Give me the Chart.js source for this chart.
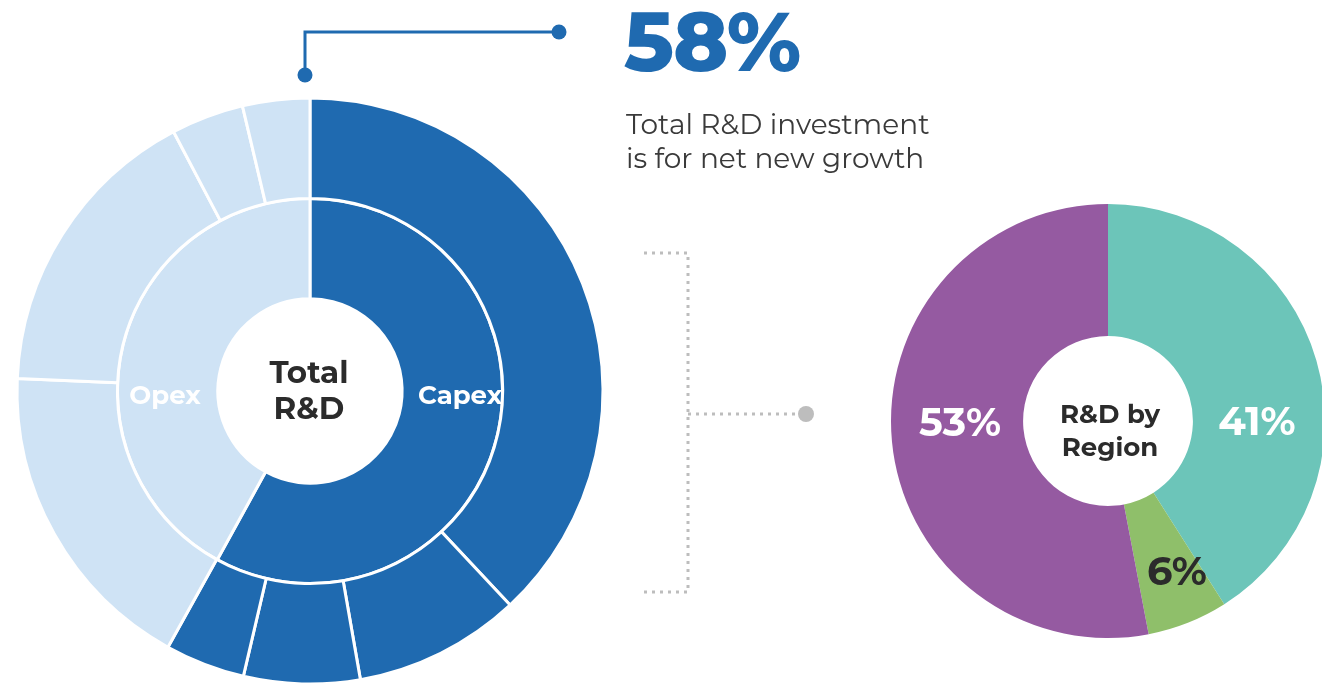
<!DOCTYPE html>
<html>
<head>
<meta charset="utf-8">
<script src="https://cdn.jsdelivr.net/npm/chart.js@4"></script>
<style>
  html, body { margin: 0; padding: 0; background: #fff; overflow: hidden; }
  #page { position: relative; width: 1322px; height: 685px; font-family: "Montserrat", "Open Sans", sans-serif; }
  .box { position: absolute; }
  .lbl { position: absolute; transform: translate(-50%, -50%); line-height: 1; font-weight: 700; white-space: nowrap; text-align: center; }
  svg { position: absolute; left: 0; top: 0; }
</style>
</head>
<body>
<div id="page">
  <div class="box" style="left:0px; top:81px; width:620px; height:620px;">
    <canvas id="rdChart" width="620" height="620"></canvas>
  </div>
  <div class="box" style="left:878px; top:191px; width:460px; height:460px;">
    <canvas id="regionChart" width="460" height="460"></canvas>
  </div>

  <svg width="1322" height="685">
    <polyline points="305,75 305,32 559,32" fill="none" stroke="#1f6ab0" stroke-width="3"/>
    <circle cx="305" cy="75" r="7.5" fill="#1f6ab0"/>
    <circle cx="559" cy="32" r="7.5" fill="#1f6ab0"/>
    <polyline points="644,253 688,253 688,592 644,592" fill="none" stroke="#bdbdbd" stroke-width="3" stroke-dasharray="3 5"/>
    <line x1="688" y1="414" x2="800" y2="414" stroke="#bdbdbd" stroke-width="3" stroke-dasharray="3 5"/>
    <circle cx="806" cy="414" r="8" fill="#bdbdbd"/>
  </svg>

  <div class="lbl" style="left:712px; top:41px; font-size:83px; font-weight:800; color:#1f6ab0; letter-spacing:-1px;">58%</div>
  <div style="position:absolute; left:626px; top:107px; font-size:28px; line-height:34px; color:#3a3a3a;">Total R&amp;D investment<br>is for net new growth</div>

  <div class="lbl" style="left:309px; top:372px; font-size:31px; color:#2b2b2b;">Total</div>
  <div class="lbl" style="left:309px; top:408px; font-size:31px; color:#2b2b2b;">R&amp;D</div>
  <div class="lbl" style="left:165px; top:395px; font-size:26px; color:#fff;">Opex</div>
  <div class="lbl" style="left:460px; top:395px; font-size:26px; color:#fff;">Capex</div>

  <div class="lbl" style="left:1110px; top:414px; font-size:26px; color:#2b2b2b;">R&amp;D by</div>
  <div class="lbl" style="left:1110px; top:447px; font-size:26px; color:#2b2b2b;">Region</div>
  <div class="lbl" style="left:1257px; top:421px; font-size:40px; color:#fff;">41%</div>
  <div class="lbl" style="left:960px; top:422px; font-size:40px; color:#fff;">53%</div>
  <div class="lbl" style="left:1177px; top:571px; font-size:40px; color:#2b2b2b;">6%</div>
</div>

<script>
// inner ring: Capex / Opex split
var innerLabels = ["Capex", "Opex"];
var innerValues = [58, 42];

// outer ring: breakdown of each (first four Capex, last four Opex)
var outerGroups = ["Capex", "Capex", "Capex", "Capex", "Opex", "Opex", "Opex", "Opex"];
var outerValues = [38, 9.2, 6.4, 4.4, 17.6, 16.6, 4.0, 3.7];

// R&D by region
var regionLabels = ["Region A", "Region B", "Region C"];
var regionValues = [41, 6, 53];

var dark = "#1f6ab0";
var light = "#cfe3f5";

var outerColors = [];
for (var i = 0; i < outerGroups.length; i++) {
  outerColors.push(outerGroups[i] == "Capex" ? dark : light);
}

var ctx = document.getElementById("rdChart");
var rdChart = new Chart(ctx, {
  type: 'doughnut',
  data: {
    labels: outerGroups,
    datasets: [{
      data: outerValues,
      backgroundColor: outerColors,
      borderColor: "#ffffff",
      borderWidth: 3
    }, {
      data: innerValues,
      backgroundColor: [dark, light],
      borderColor: "#ffffff",
      borderWidth: 3
    }]
  },
  options: {
    responsive: false,
    animation: false,
    radius: 293,
    cutout: 97,
    plugins: { legend: { display: false }, tooltip: { enabled: false } }
  }
});

var ctx2 = document.getElementById("regionChart");
var regionChart = new Chart(ctx2, {
  type: 'doughnut',
  data: {
    labels: regionLabels,
    datasets: [{
      data: regionValues,
      backgroundColor: ["#6cc5b9", "#8fbf6a", "#955aa1"],
      borderWidth: 0
    }]
  },
  options: {
    responsive: false,
    animation: false,
    radius: 217,
    cutout: 90,
    plugins: { legend: { display: false }, tooltip: { enabled: false } }
  }
});
</script>
</body>
</html>
